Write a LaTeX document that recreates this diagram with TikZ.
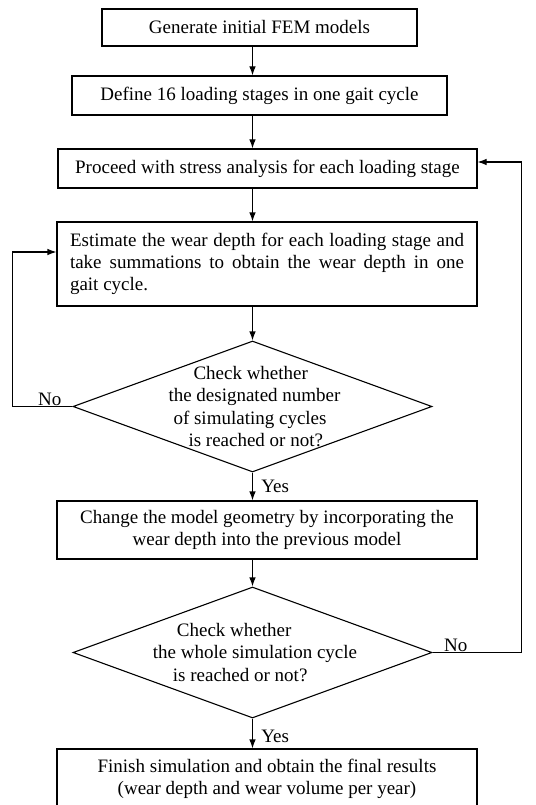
\documentclass[tikz,border=0pt]{standalone}
\usepackage{fontspec}
\setmainfont{Liberation Serif}
\usetikzlibrary{shapes.geometric,arrows.meta}
\begin{document}
\begin{tikzpicture}[x=1pt, y=-1pt,
      every node/.style = {font=\fontsize{19}{22.3}\selectfont},
      process/.style = {draw, line width=1.1pt, inner sep=0pt, align=center},
      decision/.style = {draw, line width=1.1pt, shape=diamond, inner sep=0pt,
        minimum width=359pt, minimum height=131pt},
      flow/.style = {line width=1.1pt, -{Latex[length=9pt,width=6.5pt]}}]
  \useasboundingbox (0,0) rectangle (535,805);
  \clip (0,0) rectangle (535,805);
  \node[process, minimum width=315pt, minimum height=37pt] (gen) at (259.5,27.5) {Generate initial FEM models};
  \node[process, minimum width=375pt, minimum height=39pt] (def) at (259.5,95.5) {Define 16 loading stages in one gait cycle};
  \node[process, minimum width=419pt, minimum height=39pt] (proc) at (267.5,168.5) {Proceed with stress analysis for each loading stage};
  \node[process, align=justify, text width=394pt, inner xsep=13pt, minimum height=84pt] (est) at (267,264)
    {Estimate the wear depth for each loading stage and\linebreak take summations to obtain the wear depth in one\linebreak gait cycle.};
  \node[decision, label={[align=left, xshift=2pt]center:{\hspace*{25pt}Check whether\\the designated number\\\hspace*{5pt}of simulating cycles\\\hspace*{20pt}is reached or not?}}] (d1) at (252.5,406.5) {};
  \node[process, minimum width=420pt, minimum height=58pt] (chg) at (267,530)
    {Change the model geometry by incorporating the\\wear depth into the previous model};
  \node[decision, label={[align=left, xshift=2.5pt]center:{\hspace*{24pt}Check whether\\the whole simulation cycle\\\hspace*{20pt}is reached or not?}}] (d2) at (252.5,652.5) {};
  \node[process, minimum width=420pt, minimum height=60pt] (fin) at (267,779)
    {Finish simulation and obtain the final results\\(wear depth and wear volume per year)};
  % main flow
  \draw[flow] (gen.south -| d1.center) -- (def.north -| d1.center);
  \draw[flow] (def.south -| d1.center) -- (proc.north -| d1.center);
  \draw[flow] (proc.south -| d1.center) -- (est.north -| d1.center);
  \draw[flow] (est.south -| d1.center) -- (d1.north);
  \draw[flow] (d1.south) -- node[right, xshift=5pt] {Yes} (chg.north -| d1.center);
  \draw[flow] (chg.south -| d1.center) -- (d2.north);
  \draw[flow] (d2.south) -- node[right, xshift=5pt, pos=0.6] {Yes} (fin.north -| d1.center);
  % feedback loops
  \draw[flow] (d1.west) -- node[above, pos=0.38, inner sep=0.5pt] {No} ++(-60,0) |- ([yshift=12pt]est.west);
  \draw[flow] (d2.east) -- node[above, pos=0.26, inner sep=0.5pt] {No} ++(89,0) |- ([yshift=6.5pt]proc.east);
\end{tikzpicture}
\end{document}
